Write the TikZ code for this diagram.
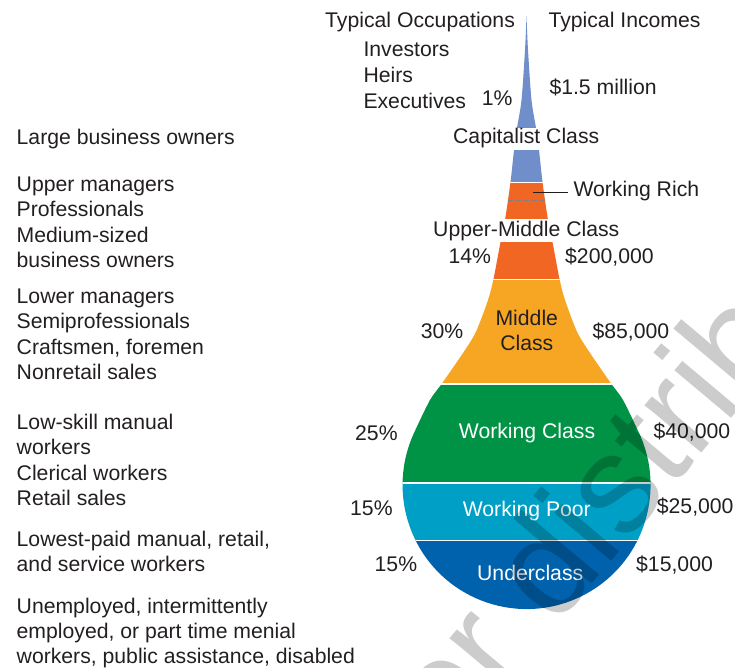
\documentclass[tikz,border=0pt]{standalone}
\usepackage{fontspec}
\setmainfont{Liberation Sans}
\definecolor{ink}{RGB}{35,31,32}
\definecolor{capblue}{RGB}{112,142,201}
\definecolor{richorange}{RGB}{242,102,36}
\definecolor{midorange}{RGB}{246,166,35}
\definecolor{workgreen}{RGB}{0,146,69}
\definecolor{poorcyan}{RGB}{0,160,198}
\definecolor{underblue}{RGB}{0,98,172}
\newcommand\lblfont{\fontsize{21.2}{25.5}\selectfont}
\begin{document}
\begin{tikzpicture}[x=1pt,y=-1pt,
    every node/.style={font=\lblfont, text=ink, inner sep=0pt},
    lbl/.style={anchor=base west},
    mid/.style={anchor=base},
    sep/.style={white, line width=1.5pt}]
    \useasboundingbox (0,0) rectangle (735,668);

    % The drop, clipped and filled in bands
    \begin{scope}
        \clip (526.5,16) -- plot[smooth] coordinates {(526.5,16) (528,50) (531.5,100) (536,128) (539,150) (542.5,182) (548,220) (552.5,242) (559.5,279) (565,300) (576.7,331) (588,350) (610.7,383) (623,400) (637.7,430.1)}
            arc[start angle=26.3, end angle=-206.3, radius=124pt]
            -- plot[smooth] coordinates {(415.3,430.1) (430,400) (442.3,383) (465,350) (476.3,331) (488,300) (493.5,279) (500.5,242) (505,220) (510.5,182) (514,150) (517,128) (521.5,100) (525,50) (526.5,16)}
            -- cycle;
        % Capitalist class (split by its label)
        \fill[capblue] (380,0) rectangle (680,127.7);
        \fill[capblue] (380,150) rectangle (680,182.5);
        % Working rich and upper-middle class
        \fill[richorange] (380,182.5) rectangle (680,219.3);
        \fill[richorange] (380,241.7) rectangle (680,280);
        % Middle, working, poor, under
        \fill[midorange] (380,280) rectangle (680,384);
        \fill[workgreen] (380,384) rectangle (680,483);
        \fill[poorcyan] (380,483) rectangle (680,540.3);
        \fill[underblue] (380,540.3) rectangle (680,640);
        % White seams
        \foreach \y in {182.3,279.7,383.9,483,540.3}
            \draw[sep] (380,\y) -- (680,\y);
        % Boundary between working rich and upper-middle
        \draw[gray, line width=1.2pt, dash pattern=on 5pt off 3pt] (500,200.7) -- (560,200.7);
    \end{scope}

    % Column heads
    \node[lbl] (hdocc) at (325,27.3) {Typical Occupations};
    \node[lbl] (hdinc) at (548.3,27.3) {Typical Incomes};

    % Capitalist class
    \node[lbl] (investors) at (363.3,56.7) {Investors};
    \node[lbl] (heirs) at (363.3,82.7) {Heirs};
    \node[lbl] (execs) at (363.3,108.3) {Executives};
    \node[lbl] (pcap) at (481.7,106) {1\%};
    \node[lbl] (inccap) at (549.3,94.3) {\$1.5 million};
    \node[mid] (capclass) at (526.2,143.3) {Capitalist Class};

    % Working rich
    \coordinate (rich) at (533.3,192.7);
    \node[lbl, inner xsep=5pt] (richlbl) at (568.3,196.7) {Working Rich};
    \draw[ink, line width=1pt] (rich) -- (rich -| richlbl.west);

    % Upper-middle class
    \node[mid] (umclass) at (526.3,236.7) {Upper-Middle Class};
    \node[lbl] (pum) at (448.3,263.3) {14\%};
    \node[lbl] (incum) at (565,263.3) {\$200,000};

    % Middle class
    \node[mid] (midclass) at (526.8,325) {Middle};
    \node[mid] (midclassb) at (526.8,350) {Class};
    \node[lbl] (pmid) at (420.7,338.3) {30\%};
    \node[lbl] (incmid) at (592.3,338.3) {\$85,000};

    % Working class
    \node[mid, text=white] (wclass) at (527,438.3) {Working Class};
    \node[lbl] (pwork) at (355,440.5) {25\%};
    \node[lbl] (incwork) at (653.3,438.3) {\$40,000};

    % Working poor
    \node[mid, text=white] (wpoor) at (526.8,516.7) {Working Poor};
    \node[lbl] (ppoor) at (350,515.5) {15\%};
    \node[lbl] (incpoor) at (656.7,513.3) {\$25,000};

    % Underclass
    \node[mid, text=white] (under) at (530.2,580) {Underclass};
    \node[lbl] (punder) at (374.5,571.7) {15\%};
    \node[lbl] (incunder) at (636,571.7) {\$15,000};

    % Occupations, left column
    \node[lbl] (occcap) at (16.5,145) {Large business owners};
    \foreach \txt [count=\i] in {Upper managers, Professionals, Medium-sized, business owners}
        \node[lbl] (occum\i) at (16.5,166.2+25.4*\i) {\txt};
    \foreach \txt [count=\i] in {Lower managers, Semiprofessionals, {Craftsmen, foremen}, Nonretail sales}
        \node[lbl] (occmid\i) at (16.5,277.9+25.4*\i) {\txt};
    \foreach \txt [count=\i] in {Low-skill manual, workers, Clerical workers, Retail sales}
        \node[lbl] (occwork\i) at (16.5,404.1+25.3*\i) {\txt};
    \foreach \txt [count=\i] in {{Lowest-paid manual, retail,}, and service workers}
        \node[lbl] (occpoor\i) at (16.5,521.7+25*\i) {\txt};
    \foreach \txt [count=\i] in {{Unemployed, intermittently}, {employed, or part time menial}, {workers, public assistance, disabled}}
        \node[lbl] (occunder\i) at (16.5,588.3+25*\i) {\txt};

    % Watermark
    \node[anchor=base west, rotate=50, font=\fontsize{140}{140}\selectfont, text=black, text opacity=0.2] (mark) at (450,753) {or distrib};
\end{tikzpicture}
\end{document}
